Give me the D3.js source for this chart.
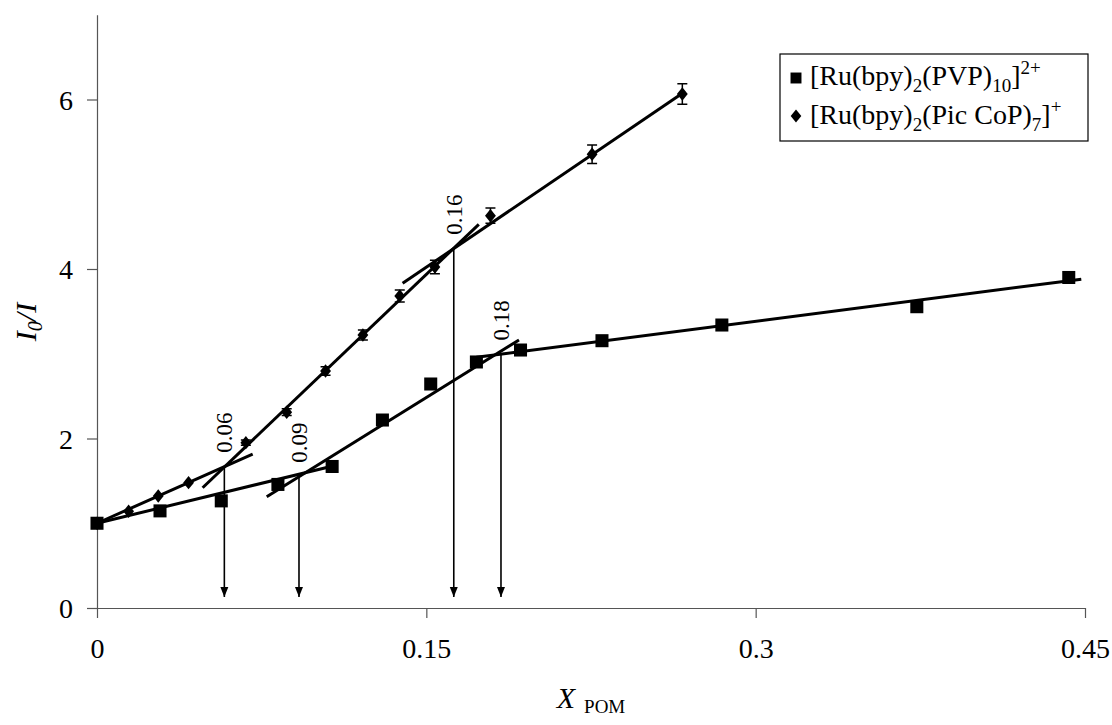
<!DOCTYPE html>
<html><head><meta charset="utf-8">
<script src="https://cdn.jsdelivr.net/npm/d3@7"></script>
<style>
body{margin:0;background:#fff}
text{font-family:"Liberation Serif","Times New Roman",serif;fill:#000}
</style>
</head><body>
<svg id="c" width="1112" height="725"></svg>
<script>
// ---- data ----
const pvpX = [0, 0.0287, 0.0566, 0.0824, 0.1071, 0.1300, 0.1520, 0.1728, 0.1929, 0.2300, 0.2846, 0.3734, 0.4426];
const pvpY = [1.00, 1.146, 1.264, 1.458, 1.670, 2.218, 2.643, 2.903, 3.044, 3.154, 3.339, 3.555, 3.900];
const pvpErr = [0, 0, 0, 0, 0, 0, 0, 0, 0, 0, 0, 0, 0.05];
const picX = [0, 0.0144, 0.0279, 0.0417, 0.0678, 0.0864, 0.1041, 0.1211, 0.1379, 0.1539, 0.1792, 0.2255, 0.2666];
const picY = [1.00, 1.141, 1.322, 1.479, 1.951, 2.310, 2.797, 3.221, 3.681, 4.024, 4.629, 5.354, 6.065];
const picErr = [0, 0, 0, 0, 0.03, 0.04, 0.05, 0.06, 0.07, 0.08, 0.09, 0.11, 0.12];
// fitted segments [x1, y1, x2, y2]
const pvpFits = [[0, 1.0, 0.107, 1.673], [0.0773, 1.313, 0.1922, 3.162], [0.1728, 2.958, 0.4483, 3.88]];
const picFits = [[0, 1.0, 0.0709, 1.817], [0.0481, 1.419, 0.1739, 4.527], [0.1392, 3.831, 0.2668, 6.077]];
// break points with arrows
const breakX = [0.058, 0.092, 0.1625, 0.184];
const breakY = [1.667, 1.55, 4.24, 2.99];
const breakLabels = ["0.06", "0.09", "0.16", "0.18"];
const arrowEnd = 0.13;
const xTicks = [0, 0.15, 0.3, 0.45];
const xTickLabels = ["0", "0.15", "0.3", "0.45"];
const yTicks = [0, 2, 4, 6];
const yTickLabels = ["0", "2", "4", "6"];

// ---- drawing ----
const svg = d3.select("#c");
const x = d3.scaleLinear().domain([0, 0.45]).range([97, 1085]);
const y = d3.scaleLinear().domain([0, 7]).range([608, 14.75]);
const axisColor = "#555";

// axes
const xAxis = d3.axisBottom(x).tickValues(xTicks).tickFormat((d, i) => xTickLabels[i]).tickSizeInner(10).tickSizeOuter(0).tickPadding(20);
const gx = svg.append("g").attr("transform", `translate(0,${y(0)})`).call(xAxis);
const yAxis = d3.axisLeft(y).tickValues(yTicks).tickFormat((d, i) => yTickLabels[i]).tickSizeInner(10).tickSizeOuter(0).tickPadding(14);
const gy = svg.append("g").attr("transform", `translate(${x(0)},0)`).call(yAxis);
[gx, gy].forEach(g => {
  g.attr("font-family", null);
  g.select(".domain").attr("stroke", axisColor).attr("stroke-width", 1.2);
  g.selectAll(".tick line").attr("stroke", axisColor).attr("stroke-width", 1.2);
  g.selectAll(".tick text").attr("font-size", 28).attr("fill", "#000");
});
gx.selectAll(".tick text").attr("dy", "0.71em");
gy.selectAll(".tick text").attr("dy", "0.35em");

// axis titles
const xt = svg.append("text").attr("x", 591).attr("y", 708).attr("text-anchor", "middle").attr("font-size", 30);
xt.append("tspan").attr("font-style", "italic").text("X");
xt.append("tspan").attr("font-size", 19).attr("dx", 9).attr("dy", 5).text("POM");

const yt = svg.append("text").attr("transform", "translate(36,322) rotate(-90)").attr("text-anchor", "middle").attr("font-size", 30).attr("font-style", "italic");
yt.append("tspan").text("I");
yt.append("tspan").attr("font-size", 20).attr("dy", 6).text("0");
yt.append("tspan").attr("dy", -6).text("/I");

// fit lines
const fits = pvpFits.concat(picFits);
svg.append("g").selectAll("line").data(fits).join("line")
  .attr("x1", d => x(d[0])).attr("y1", d => y(d[1]))
  .attr("x2", d => x(d[2])).attr("y2", d => y(d[3]))
  .attr("stroke", "#000").attr("stroke-width", 3);

// arrows
svg.append("defs").append("marker").attr("id", "ah").attr("viewBox", "0 0 10 10")
  .attr("refX", 10).attr("refY", 5).attr("markerWidth", 10).attr("markerHeight", 10)
  .attr("markerUnits", "userSpaceOnUse").attr("orient", "auto")
  .append("path").attr("d", "M0,1 L10,5 L0,9 Z").attr("fill", "#000");
const ga = svg.append("g");
breakX.forEach((bx, i) => {
  ga.append("line").attr("x1", x(bx)).attr("x2", x(bx)).attr("y1", y(breakY[i])).attr("y2", y(arrowEnd))
    .attr("stroke", "#000").attr("stroke-width", 1.6).attr("marker-end", "url(#ah)");
  ga.append("text").attr("transform", `translate(${x(bx)},${y(breakY[i]) - 14}) rotate(-90)`)
    .attr("dy", "0.35em").attr("font-size", 23).attr("text-anchor", "start").text(breakLabels[i]);
});

// error bars
function errBars(xs, ys, es) {
  const g = svg.append("g");
  xs.forEach((xv, i) => {
    if (!es[i]) return;
    const cx = x(xv), t = y(ys[i] + es[i]), b = y(ys[i] - es[i]);
    g.append("path").attr("d", `M${cx},${t}V${b}M${cx - 5},${t}H${cx + 5}M${cx - 5},${b}H${cx + 5}`)
      .attr("stroke", "#000").attr("stroke-width", 1.5).attr("fill", "none");
  });
}
errBars(picX, picY, picErr);
errBars(pvpX, pvpY, pvpErr);

// markers
const sq = d3.symbol().type(d3.symbolSquare).size(170);
const dm = d3.symbol().type(d3.symbolDiamond).size(52);
svg.append("g").selectAll("path").data(picX).join("path")
  .attr("d", dm).attr("transform", (d, i) => `translate(${x(d)},${y(picY[i])}) scale(1.4,1)`).attr("fill", "#000");
svg.append("g").selectAll("path").data(pvpX).join("path")
  .attr("d", sq).attr("transform", (d, i) => `translate(${x(d)},${y(pvpY[i])})`).attr("fill", "#000");

// legend
const lg = svg.append("g");
lg.append("rect").attr("x", 780).attr("y", 54).attr("width", 308).attr("height", 87)
  .attr("fill", "#fff").attr("stroke", "#000").attr("stroke-width", 1.2);
lg.append("path").attr("d", d3.symbol().type(d3.symbolSquare).size(120)).attr("transform", "translate(796,78)").attr("fill", "#000");
lg.append("path").attr("d", d3.symbol().type(d3.symbolDiamond).size(50)).attr("transform", "translate(796,116) scale(1.4,1)").attr("fill", "#000");
const t1 = lg.append("text").attr("x", 810).attr("y", 85).attr("font-size", 28);
t1.append("tspan").text("[Ru(bpy)");
t1.append("tspan").attr("font-size", 19).attr("dy", 7).text("2");
t1.append("tspan").attr("dy", -7).text("(PVP)");
t1.append("tspan").attr("font-size", 19).attr("dy", 7).text("10");
t1.append("tspan").attr("dy", -7).text("]");
t1.append("tspan").attr("font-size", 19).attr("dy", -11).text("2+");
const t2 = lg.append("text").attr("x", 810).attr("y", 124).attr("font-size", 28);
t2.append("tspan").text("[Ru(bpy)");
t2.append("tspan").attr("font-size", 19).attr("dy", 7).text("2");
t2.append("tspan").attr("dy", -7).text("(Pic CoP)");
t2.append("tspan").attr("font-size", 19).attr("dy", 7).text("7");
t2.append("tspan").attr("dy", -7).text("]");
t2.append("tspan").attr("font-size", 19).attr("dy", -11).text("+");
</script>
</body></html>
